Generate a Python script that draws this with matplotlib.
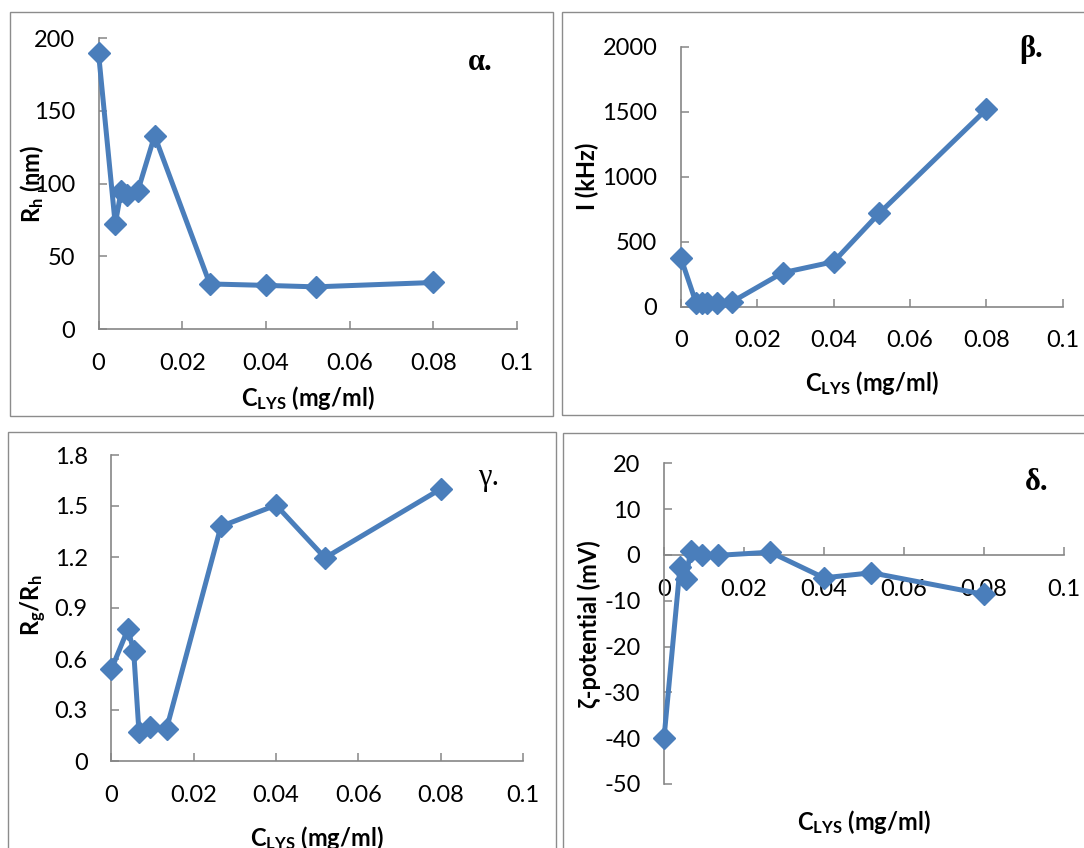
import matplotlib
matplotlib.use('Agg')
import matplotlib.pyplot as plt
from matplotlib.patches import Rectangle

plt.rcParams['font.family'] = ['Lato', 'DejaVu Sans']
plt.rcParams['axes.unicode_minus'] = False
plt.rcParams['mathtext.fontset'] = 'custom'
plt.rcParams['mathtext.rm'] = 'Lato'
plt.rcParams['mathtext.bf'] = 'Lato:bold'
plt.rcParams['mathtext.it'] = 'Lato:italic'

# concentrazione di lisozima (mg/ml)
conc = [0, 0.004, 0.0054, 0.0067, 0.0094, 0.0134, 0.0266, 0.04, 0.0519, 0.08]

r_h = [190, 72, 95, 92, 95, 133, 31, 30, 29, 32]
intensity = [372, 25, 25, 25, 30, 38, 261, 346, 718, 1518]
rg_rh = [0.54, 0.775, 0.65, 0.17, 0.20, 0.19, 1.38, 1.505, 1.195, 1.60]
zeta = [-40, -2.7, -5.3, 0.9, 0.0, -0.1, 0.6, -5.0, -3.9, -8.6]

x_ticks = [0, 0.02, 0.04, 0.06, 0.08, 0.1]
x_labels = ['0', '0.02', '0.04', '0.06', '0.08', '0.1']

rh_ticks = [0, 50, 100, 150, 200]
int_ticks = [0, 500, 1000, 1500, 2000]
ratio_ticks = [0, 0.3, 0.6, 0.9, 1.2, 1.5, 1.8]
ratio_labels = ['0', '0.3', '0.6', '0.9', '1.2', '1.5', '1.8']
zeta_ticks = [-50, -40, -30, -20, -10, 0, 10, 20]

W, H = 1084, 848
BLUE = '#4a7ebb'
GREY = '#868686'

fig = plt.figure(figsize=(W / 100, H / 100), dpi=100)


def px_axes(x0, y0, x1, y1):
    return fig.add_axes([x0 / W, 1 - y1 / H, (x1 - x0) / W, (y1 - y0) / H])


def frame(x0, y0, x1, y1):
    fig.add_artist(Rectangle((x0 / W, 1 - y1 / H), (x1 - x0) / W, (y1 - y0) / H,
                             transform=fig.transFigure, fill=False,
                             ec='#8c8c8c', lw=1.0))


def panel(ax, y, yticks, ylabels, ylabel, xlab_pos, ylab_pos):
    ax.plot(conc, y, color=BLUE, lw=3.6, marker='D', ms=11, mec=BLUE,
            clip_on=False, zorder=3)
    ax.set_xlim(0, 0.1)
    ax.set_ylim(yticks[0], yticks[-1])
    ax.set_xticks(x_ticks)
    ax.set_xticklabels(x_labels)
    ax.set_yticks(yticks)
    ax.set_yticklabels(ylabels)
    for s in ['top', 'right']:
        ax.spines[s].set_visible(False)
    for s in ['left', 'bottom']:
        ax.spines[s].set_color(GREY)
        ax.spines[s].set_linewidth(1.2)
    ax.tick_params(direction='in', length=5.5, width=1.1, color=GREY,
                   labelsize=17, pad=17)
    ax.set_xlabel('$\\mathbf{C_{LYS}}$ (mg/ml)', fontsize=17,
                  fontweight='bold', va='center')
    ax.xaxis.set_label_coords(*xlab_pos)
    ax.set_ylabel(ylabel, fontsize=17, fontweight='bold', va='center')
    ax.yaxis.set_label_coords(*ylab_pos)


# cornici grigie dei quattro riquadri
frame(9.6, 11.7, 553, 416)
frame(562, 12, 1110, 415)
frame(8, 432, 556, 880)
frame(563.4, 433.3, 1110, 880)

ax_a = px_axes(98.5, 38.3, 517, 329)
panel(ax_a, r_h, rh_ticks, [str(v) for v in rh_ticks],
      '$\\mathbf{R_h}$ (nm)', (0.5, -0.237), (-0.159, 0.5))

ax_b = px_axes(681, 46.7, 1062.8, 306.7)
panel(ax_b, intensity, int_ticks, [str(v) for v in int_ticks],
      'I (kHz)', (0.5, -0.295), (-0.246, 0.5))

ax_c = px_axes(111.4, 455, 523, 761)
panel(ax_c, rg_rh, ratio_ticks, ratio_labels,
      '$\\mathbf{R_g/R_h}$', (0.5, -0.252), (-0.188, 0.51))

ax_d = px_axes(664, 463.3, 1063.8, 784)
panel(ax_d, zeta, zeta_ticks, [str(v) for v in zeta_ticks],
      'ζ-potential (mV)', (0.5, -0.118), (-0.188, 0.5))
ax_d.spines['bottom'].set_position(('data', 0))

serif = ['Liberation Serif', 'DejaVu Serif']
fig.text(480 / W, 1 - 62 / H, 'α.', family=serif, fontweight='bold',
         fontsize=22, ha='center', va='center')
fig.text(1031 / W, 1 - 50 / H, 'β.', family=serif, fontweight='bold',
         fontsize=22, ha='center', va='center')
fig.text(489 / W, 1 - 477 / H, 'γ.', family=serif, fontweight='normal',
         fontsize=22, ha='center', va='center')
fig.text(1037 / W, 1 - 482 / H, 'δ.', family=serif, fontweight='bold',
         fontsize=22, ha='center', va='center')

fig.savefig('out.png', dpi=100, facecolor='white')
